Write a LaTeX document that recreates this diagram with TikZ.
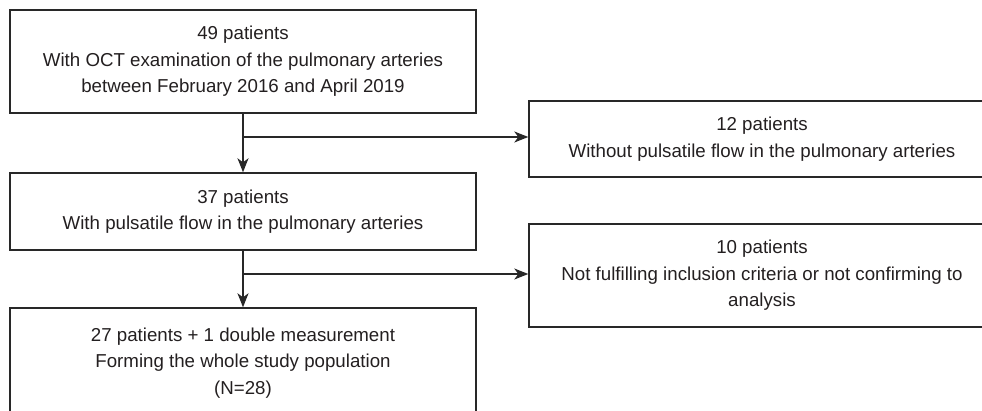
\documentclass[tikz,border=0pt]{standalone}
\usepackage{fontspec}
\setmainfont{Liberation Sans}
\usetikzlibrary{arrows.meta, positioning}
\definecolor{boxline}{RGB}{40, 40, 40}
\definecolor{boxtext}{RGB}{35, 31, 32}

\begin{document}
\begin{tikzpicture}[x=1pt, y=-1pt,
  fbox/.style={draw=boxline, line width=1.4pt, minimum width=466pt, align=center, inner sep=0pt, text=boxtext, font=\fontsize{18.7}{26.5}\selectfont},
  arr/.style={-{Stealth[length=14pt, width=11pt, inset=4pt]}, line width=1.4pt, draw=boxline}
]
  \clip (0,0) rectangle (982,411);
  \node[fbox, minimum height=103pt] (oct) at (243, 61.5) {49 patients\\With OCT examination of the pulmonary arteries\\between February 2016 and April 2019};
  \node[fbox, minimum height=76pt] (nopulse) at (762, 139) {12 patients\\Without pulsatile flow in the pulmonary arteries};
  \node[fbox, minimum height=77pt] (pulse) at (243, 211.5) {37 patients\\With pulsatile flow in the pulmonary arteries};
  \node[fbox, minimum height=103pt] (excl) at (762, 275.5) {10 patients\\Not fulfilling inclusion criteria or not confirming to\\analysis};
  \node[fbox, minimum height=110pt] (study) at (243, 363) {27 patients + 1 double measurement\\Forming the whole study population\\(N=28)};
  \coordinate (b1) at (243, 137);
  \coordinate (b2) at (243, 274);
  \draw[arr] (oct) -- (pulse);
  \draw[arr] (b1) -- (b1 -| nopulse.west);
  \draw[arr] (pulse) -- (study);
  \draw[arr] (b2) -- (b2 -| excl.west);
\end{tikzpicture}
\end{document}
